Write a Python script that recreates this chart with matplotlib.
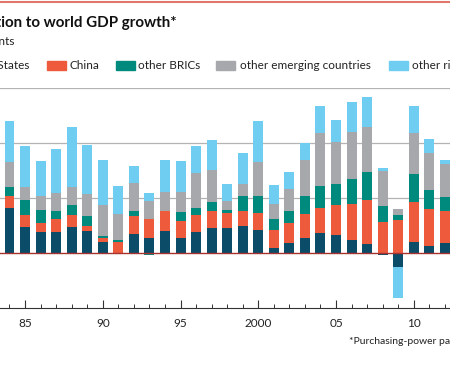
import matplotlib
matplotlib.use("Agg")
import matplotlib.pyplot as plt
import numpy as np
from matplotlib.patches import Rectangle
from matplotlib.lines import Line2D

plt.rcParams['font.family'] = ['Lato', 'DejaVu Sans']

# data: contribution to world GDP growth, percentage points
years = np.arange(1984, 2013)
us = [1.62, 0.95, 0.78, 0.78, 0.93, 0.81, 0.41, 0.0, 0.70, 0.55,
      0.80, 0.53, 0.76, 0.91, 0.91, 0.98, 0.84, 0.19, 0.35, 0.56,
      0.73, 0.64, 0.48, 0.32, -0.06, -0.50, 0.41, 0.27, 0.38]
china = [0.46, 0.45, 0.32, 0.44, 0.46, 0.18, 0.15, 0.39, 0.64, 0.70,
         0.74, 0.65, 0.62, 0.61, 0.55, 0.53, 0.63, 0.65, 0.74, 0.87,
         0.92, 1.09, 1.32, 1.59, 1.14, 1.19, 1.44, 1.33, 1.16]
brics = [0.33, 0.51, 0.48, 0.29, 0.35, 0.34, 0.07, 0.07, 0.17, -0.06,
         -0.05, 0.30, 0.25, 0.32, 0.11, 0.57, 0.62, 0.41, 0.44, 0.64,
         0.79, 0.78, 0.88, 1.02, 0.57, 0.21, 1.02, 0.68, 0.50]
emerging = [0.91, 0.48, 0.48, 0.68, 0.67, 0.82, 1.13, 0.97, 1.04, 0.65,
            0.68, 0.75, 1.28, 1.19, 0.33, 0.44, 1.22, 0.53, 0.78, 1.32,
            1.94, 1.54, 1.72, 1.67, 1.26, 0.21, 1.50, 1.37, 1.19]
rich = [1.49, 1.50, 1.30, 1.60, 2.17, 1.76, 1.61, 1.00, 0.61, 0.29,
        1.16, 1.10, 0.97, 1.09, 0.62, 1.10, 1.48, 0.68, 0.62, 0.62,
        0.98, 0.79, 1.10, 1.08, 0.13, -1.15, 0.99, 0.50, 0.16]

series = [us, china, brics, emerging, rich]
labels = ["United States", "China", "other BRICs",
          "other emerging countries", "other rich countries"]
colors = ["#0b4d68", "#ee5a3c", "#008a7d", "#a7a8ab", "#6fcdf2"]

fig = plt.figure(figsize=(4.5, 3.75), dpi=100)
fig.patch.set_facecolor("white")

# axes spans the full width, chart is cropped on both sides
ax = fig.add_axes([0, (375 - 308) / 375, 1, 220 / 375])
ax.set_xlim(1983.39, 2012.33)
ax.set_ylim(-2, 6)

for g in [2, 4, 6]:
    ax.axhline(g, color="#b3b3b3", lw=0.9, zorder=0)

pos = np.zeros(len(years))
neg = np.zeros(len(years))
for vals, c in zip(series, colors):
    v = np.array(vals)
    b = np.where(v >= 0, pos, neg)
    ax.bar(years, v, bottom=b, width=0.64, color=c, zorder=2, lw=0)
    pos = pos + np.where(v >= 0, v, 0)
    neg = neg + np.where(v < 0, v, 0)

ax.axhline(0, color="#a8322e", lw=1.0, zorder=3)

for s in ["top", "left", "right"]:
    ax.spines[s].set_visible(False)
ax.spines["bottom"].set_color("#333333")
ax.spines["bottom"].set_linewidth(0.8)

ax.set_yticks([])
ax.set_xticks([1985, 1990, 1995, 2000, 2005, 2010])
ax.set_xticklabels(["85", "90", "95", "2000", "05", "10"])
ax.set_xticks(years, minor=True)
ax.tick_params(axis="x", which="major", direction="in", length=6, width=0.8,
               color="#333333", labelsize=8.5, pad=7, labelcolor="#222222")
ax.tick_params(axis="x", which="minor", direction="in", length=3, width=0.7,
               color="#333333")

# top red rule
fig.add_artist(Line2D([0, 1], [1 - 1.5 / 375] * 2, color="#e0776c", lw=1.5))

fig.text(177 / 450, 1 - 23 / 375, "Contribution to world GDP growth*",
         ha="right", va="center", fontsize=10.9, fontweight="bold", color="#111111")
fig.text(15 / 450, 1 - 41.5 / 375, "Percentage points",
         ha="right", va="center", fontsize=8.6, color="#222222")

# legend
swatches = [None, 47, 116, 216, 389]
text_x = [29, 69, 138, 240, 412]
ly = 1 - 65.5 / 375
for i in range(5):
    if swatches[i] is not None:
        fig.add_artist(Rectangle((swatches[i] / 450, 1 - 70 / 375), 19 / 450, 9 / 375,
                                 color=colors[i], transform=fig.transFigure))
    if i == 0:
        fig.text(text_x[i] / 450, ly, labels[i], ha="right", va="center",
                 fontsize=8.5, color="#222222")
    else:
        fig.text(text_x[i] / 450, ly, labels[i], ha="left", va="center",
                 fontsize=8.5, color="#222222")

fig.text(349 / 450, 1 - 342 / 375, "*Purchasing-power parity",
         ha="left", va="center", fontsize=7.5, color="#222222")

fig.savefig("out.png", dpi=100, facecolor="white")
